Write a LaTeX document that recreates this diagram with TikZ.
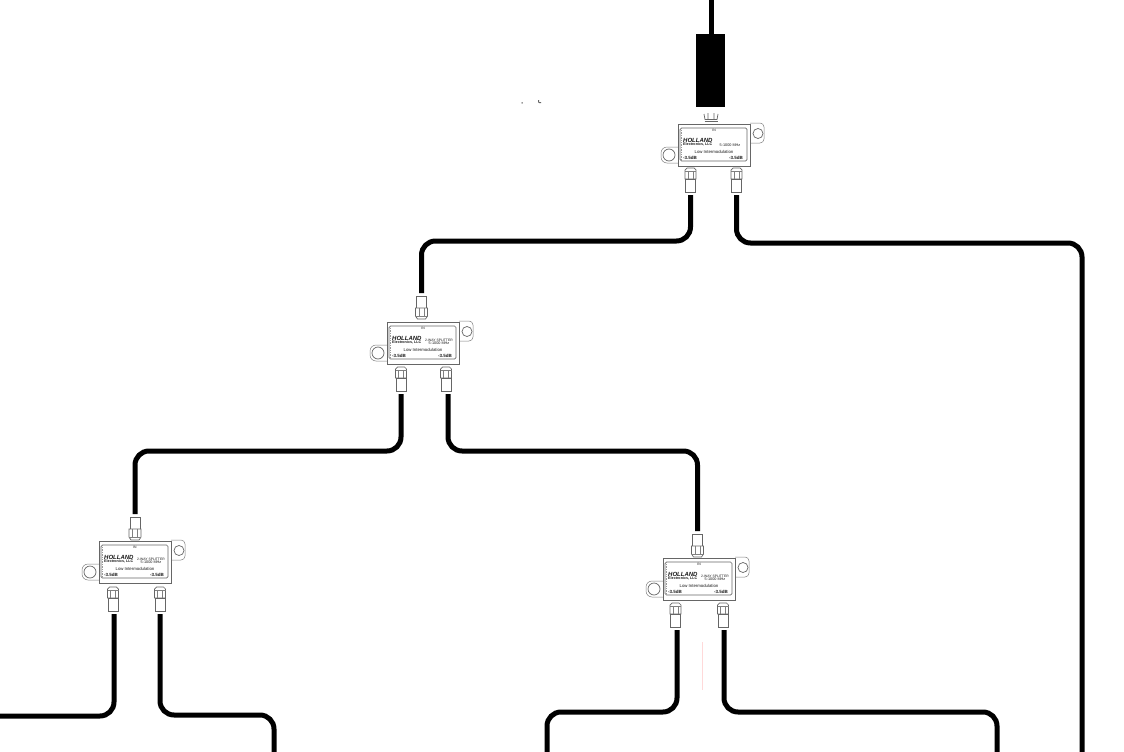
\documentclass[tikz,border=0pt]{standalone}
\usepackage{fontspec}
\setmainfont{Liberation Sans}
\newcommand{\fs}[1]{\fontsize{#1}{#1}\selectfont}
\tikzset{
  x=1pt,y=-1pt,
  cable/.style={line width=5pt,black,rounded corners=14pt},
  part/.style={draw=black!60,line width=0.7pt},
  thin part/.style={draw=black!50,line width=0.5pt},
  tag/.style={inner sep=0pt,text=black!90},
  outport/.pic={
    \draw[part,fill=white] (-5.5,2) -- (-3.5,0) -- (3.5,0) -- (5.5,2) -- (5.5,11) -- (-5.5,11) -- cycle;
    \draw[thin part] (-2.5,3)--(-2.5,11) (2.5,3)--(2.5,11) (-5.5,3)--(5.5,3);
    \draw[part,fill=white] (-5,11) rectangle (5,24);
    \coordinate (-end) at (0,27);
  },
  inport/.pic={
    \draw[part,fill=white] (-5,0) rectangle (5,12);
    \draw[part,fill=white] (-6,12) -- (6,12) -- (6,20) -- (4,23) -- (-4,23) -- (-6,20) -- cycle;
    \draw[thin part] (-2.5,12)--(-2.5,20) (2.5,12)--(2.5,20) (-6,20)--(6,20);
    \coordinate (-end) at (0,-3);
  },
  splitter/.pic={
    \draw[thin part,fill=white,rounded corners=4pt] (72,-1) -- (86,-1) -- (86,19) -- (72,19);
    \draw[part] (80,9.5) circle (5);
    \draw[thin part,fill=white,rounded corners=6pt] (0,23) -- (-17,23) -- (-17,39) -- (0,39);
    \draw[part] (-9,31) circle (6);
    \draw[line width=1pt,draw=black!60,fill=white] (0,0) rectangle (72,42);
    \draw[part,rounded corners=1.5pt] (2,4) rectangle (69,37);
    \draw[draw=black!40,densely dotted,line width=1.4pt] (3.2,6)--(3.2,35);
    \node[tag,font=\fs{3.4}] (-inlabel) at (36,6.5) {IN};
    \node[tag,anchor=west,font=\fs{6}\bfseries\itshape] (-brand) at (5,16) {HOLLAND};
    \node[tag,anchor=west,font=\fs{3.7}\bfseries] (-maker) at (5,20.5) {Electronics, LLC};
    \node[tag,font=\fs{3.4}] (-kind) at (52,18) {#1};
    \node[tag,font=\fs{3.8}] (-band) at (52,21.5) {5-1000 MHz};
    \node[tag,font=\fs{4.3}] (-note) at (36,28) {Low Intermodulation};
    \node[tag,anchor=west,font=\fs{4.5}\bfseries] (-lossl) at (5,33.5) {-3.5dB};
    \node[tag,anchor=east,font=\fs{4.5}\bfseries] (-lossr) at (65,33.5) {-3.5dB};
  },
}
\begin{document}
\begin{tikzpicture}
\useasboundingbox[fill=white] (0,0) rectangle (1124,752);
% source
\coordinate (feed) at (711,0);
\node[fill=black,inner sep=0pt,minimum width=29pt,minimum height=73pt] (amp) at (710.5,70.5) {};
\draw[cable] (feed) -- (amp.north -| feed);
\draw[part] (704,114) -- (705,119.5) -- (717,119.5) -- (718,114) (708,113)--(708,119.5) (714,113)--(714,119.5);
\draw[part] (704.5,121.5)--(717.5,121.5);
% splitters
\pic (top) at (678,124) {splitter={}};
\pic (mid) at (387,322) {splitter={2-WAY SPLITTER}};
\pic (lft) at (99,541) {splitter={2-WAY SPLITTER}};
\pic (rgt) at (663,558) {splitter={2-WAY SPLITTER}};
% ports
\pic (topa) at (690.5,168) {outport};
\pic (topb) at (736.5,168) {outport};
\pic (mida) at (401,367) {outport};
\pic (midb) at (446,367) {outport};
\pic (lfta) at (113,587) {outport};
\pic (lftb) at (160,587) {outport};
\pic (rgta) at (675.5,603) {outport};
\pic (rgtb) at (723,603) {outport};
\pic (midin) at (421.5,296) {inport};
\pic (lftin) at (135,517) {inport};
\pic (rgtin) at (697.5,534) {inport};
% free ends
\coordinate (farright) at (1082,752);
\coordinate (la) at (0,716);
\coordinate (lb) at (274,752);
\coordinate (ra) at (547,752);
\coordinate (rb) at (997,752);
% cables
\draw[cable] (topa-end) -- ++(0,46) -| (midin-end);
\draw[cable] (topb-end) -- ++(0,48) -| (farright);
\draw[cable] (mida-end) -- ++(0,57) -| (lftin-end);
\draw[cable] ([xshift=2pt]midb-end) -- ++(0,57) -| (rgtin-end);
\draw[cable] ([xshift=1pt]lfta-end) -- ++(0,102) -- (la);
\draw[cable] (lftb-end) -- ++(0,101) -| (lb);
\draw[cable] ([xshift=1.5pt]rgta-end) -- ++(0,82) -| (ra);
\draw[cable] ([xshift=1pt]rgtb-end) -- ++(0,82) -| (rb);
% faint marks
\draw[pink!60,line width=0.7pt] (702.5,642) -- (702.5,690);
\fill[black!60] (521.5,102) rectangle (522.5,103.5) (538,100) rectangle (539,102.5) (539,102) rectangle (541,103);
\end{tikzpicture}
\end{document}
